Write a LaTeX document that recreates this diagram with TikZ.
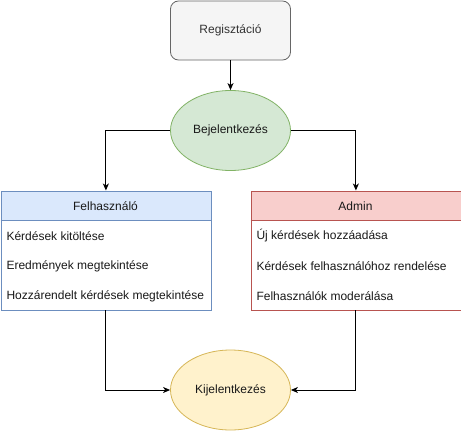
\documentclass[tikz,border=0pt]{standalone}
\usepackage{fontspec}
\setmainfont{Liberation Sans}
\usetikzlibrary{shapes.geometric,arrows.meta}
\definecolor{grayfill}{HTML}{F5F5F5}
\definecolor{graystroke}{HTML}{666666}
\definecolor{graytext}{HTML}{333333}
\definecolor{greenfill}{HTML}{D5E8D4}
\definecolor{greenstroke}{HTML}{82B366}
\definecolor{bluefill}{HTML}{DAE8FC}
\definecolor{bluestroke}{HTML}{6C8EBF}
\definecolor{redfill}{HTML}{F8CECC}
\definecolor{redstroke}{HTML}{B85450}
\definecolor{yellowfill}{HTML}{FFF2CC}
\definecolor{yellowstroke}{HTML}{D6B656}
\tikzset{
  txt/.style={font=\fontsize{12}{14}\selectfont, text=black!90},
  conn/.style={draw=black, line width=1pt, -{Stealth[length=7pt,width=6pt,inset=2pt]}},
  ell/.style={ellipse, minimum width=120pt, minimum height=80pt, inner sep=0pt, line width=0.8pt, txt},
}
\begin{document}
\begin{tikzpicture}[x=1pt,y=-1pt]
\useasboundingbox[fill=white] (0,0) rectangle (461,431);
% Registration
\node[draw=graystroke, fill=grayfill, rounded corners=8pt, line width=0.8pt, minimum width=120pt, minimum height=59pt, inner sep=0pt, txt, text=graytext] (reg) at (230.5,30.5) {Regisztáció};
% Login
\node[ell, draw=greenstroke, fill=greenfill] (login) at (230.5,130.5) {Bejelentkezés};
% Logout
\node[ell, draw=yellowstroke, fill=yellowfill] (logout) at (230.5,390) {Kijelentkezés};
% User box
\fill[white] (0.5,220.5) rectangle (210.5,309.5);
\fill[bluefill] (0.5,190.5) rectangle (210.5,220.5);
\draw[bluestroke, line width=0.8pt] (0.5,220.5) -- (210.5,220.5);
\node[draw=bluestroke, line width=0.8pt, minimum width=210pt, minimum height=119pt, inner sep=0pt, anchor=north west] (user) at (0.5,190.5) {};
\node[txt] (userh) at (105.5,206) {Felhasználó};
\node[txt, anchor=west] (u1) at (3,236) {Kérdések kitöltése};
\node[txt, anchor=west] (u2) at (3,266) {Eredmények megtekintése};
\node[txt, anchor=west] (u3) at (3,296) {Hozzárendelt kérdések megtekintése};
% Admin box
\fill[white] (250.5,220.5) rectangle (460.5,309.5);
\fill[redfill] (250.5,190.5) rectangle (460.5,220.5);
\draw[redstroke, line width=0.8pt] (250.5,220.5) -- (460.5,220.5);
\node[draw=redstroke, line width=0.8pt, minimum width=210pt, minimum height=119pt, inner sep=0pt, anchor=north west] (admin) at (250.5,190.5) {};
\node[txt] (adminh) at (355.5,206) {Admin};
\node[txt, anchor=west] (a1) at (253,236) {Új kérdések hozzáadása};
\node[txt, anchor=west] (a2) at (253,266) {Kérdések felhasználóhoz rendelése};
\node[txt, anchor=west] (a3) at (253,296) {Felhasználók moderálása};
% Connectors
\draw[conn] (reg.south) -- (login.north);
\draw[conn] (login.west) -| (user.north);
\draw[conn] (login.east) -| (admin.north);
\draw[conn] (user.south) |- (logout.west);
\draw[conn] (admin.south) |- (logout.east);
\end{tikzpicture}
\end{document}
